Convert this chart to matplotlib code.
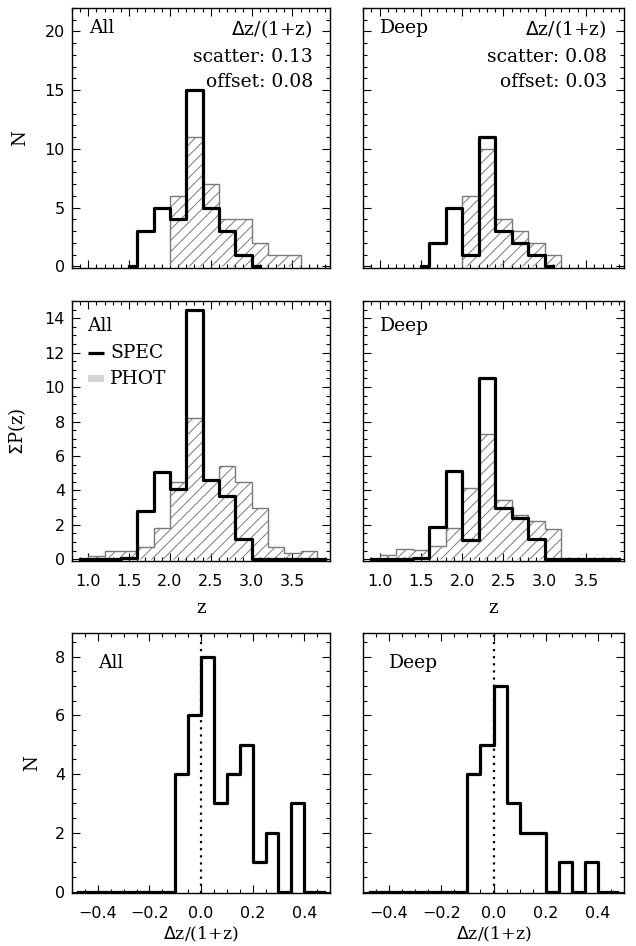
import numpy as np
import matplotlib.pyplot as plt
from matplotlib.ticker import MultipleLocator
from matplotlib.patches import Rectangle

plt.rcParams['hatch.linewidth'] = 0.7
plt.rcParams['font.family'] = 'DejaVu Sans'

# ---- data ----
# top row: N per z bin (bin width 0.2)
top_spec_z = [1.5, 1.7, 1.9, 2.1, 2.3, 2.5, 2.7, 2.9, 3.1]
top_all_spec = [0, 3, 5, 4, 15, 5, 3, 1, 0]
top_deep_spec = [0, 2, 5, 1, 11, 3, 2, 1, 0]
top_all_phot_edges = [2.0, 2.2, 2.4, 2.6, 2.8, 3.0, 3.2, 3.4, 3.6]
top_all_phot = [6, 11, 7, 4, 4, 2, 1, 1]
top_deep_phot_edges = [2.0, 2.2, 2.4, 2.6, 2.8, 3.0, 3.2]
top_deep_phot = [6, 10, 4, 3, 2, 1]
top_all_stats = ('0.13', '0.08')
top_deep_stats = ('0.08', '0.03')

# middle row: summed P(z)
mid_spec_z = [0.9, 1.1, 1.3, 1.5, 1.7, 1.9, 2.1, 2.3, 2.5, 2.7, 2.9, 3.1, 3.3, 3.5, 3.7, 3.9]
mid_all_spec = [0, 0, 0, 0.1, 2.8, 5.05, 4.1, 14.5, 4.6, 3.7, 1.15, 0, 0, 0, 0, 0]
mid_deep_spec = [0, 0, 0, 0.05, 1.9, 5.1, 1.1, 10.5, 2.95, 2.4, 1.2, 0, 0, 0, 0, 0]
mid_all_phot_edges = [1.0, 1.2, 1.4, 1.6, 1.8, 2.0, 2.2, 2.4, 2.6, 2.8, 3.0, 3.2, 3.4, 3.6, 3.8]
mid_all_phot = [0.2, 0.5, 0.5, 0.7, 1.8, 4.5, 8.2, 4.6, 5.4, 4.5, 3.0, 0.7, 0.35, 0.5]
mid_deep_phot_edges = [1.0, 1.2, 1.4, 1.6, 1.8, 2.0, 2.2, 2.4, 2.6, 2.8, 3.0, 3.2]
mid_deep_phot = [0.25, 0.6, 0.55, 0.75, 1.8, 4.15, 7.25, 3.45, 2.55, 2.2, 1.75]

# bottom row: dz/(1+z) histogram (bin width 0.05)
dz_centers = [-0.475, -0.425, -0.375, -0.325, -0.275, -0.225, -0.175, -0.125, -0.075, -0.025,
              0.025, 0.075, 0.125, 0.175, 0.225, 0.275, 0.325, 0.375, 0.425, 0.475]
dz_all = [0, 0, 0, 0, 0, 0, 0, 0, 4, 6, 8, 3, 4, 5, 1, 2, 0, 3, 0, 0]
dz_deep = [0, 0, 0, 0, 0, 0, 0, 0, 4, 5, 7, 3, 2, 2, 0, 1, 0, 1, 0, 0]

W, H = 636, 946
fig = plt.figure(figsize=(W / 100, H / 100), dpi=100)

col_left = [72, 363]
col_width = [258, 261]
row_top = [8, 301, 633]
row_h = 260

serif = 'DejaVu Serif'
txt_size = 13.5
phot_color = '#7a7a7a'


def make_ax(r, c):
    ax = fig.add_axes([col_left[c] / W, 1 - (row_top[r] + row_h) / H,
                       col_width[c] / W, row_h / H])
    ax.tick_params(which='both', direction='in', top=True, right=True,
                   width=0.8, labelsize=11.5, color='k')
    ax.tick_params(which='major', length=6)
    ax.tick_params(which='minor', length=3)
    ax.tick_params(axis='x', pad=9)
    ax.tick_params(axis='y', pad=5)
    for s in ax.spines.values():
        s.set_linewidth(1.0)
    if c == 1:
        ax.tick_params(labelleft=False)
    return ax


def draw_z_panel(ax, spec_z, spec, phot_edges, phot):
    ax.stairs(phot, phot_edges, fill=True, facecolor='none', edgecolor=phot_color,
              hatch='///', linewidth=1.0, zorder=2)
    ax.plot(spec_z, spec, drawstyle='steps-mid', color='k', lw=2.3, zorder=3)
    ax.set_xlim(0.8, 3.96)
    ax.xaxis.set_major_locator(MultipleLocator(0.5))
    ax.xaxis.set_minor_locator(MultipleLocator(0.1))


# ---- top row ----
for c, (spec, pe, ph, name, st) in enumerate([
        (top_all_spec, top_all_phot_edges, top_all_phot, 'All', top_all_stats),
        (top_deep_spec, top_deep_phot_edges, top_deep_phot, 'Deep', top_deep_stats)]):
    ax = make_ax(0, c)
    draw_z_panel(ax, top_spec_z, spec, pe, ph)
    ax.set_ylim(-0.15, 22)
    ax.yaxis.set_major_locator(MultipleLocator(5))
    ax.yaxis.set_minor_locator(MultipleLocator(1))
    ax.tick_params(labelbottom=False)
    ax.text(0.065, 0.922, name, transform=ax.transAxes, family=serif,
            fontsize=txt_size, ha='left', va='center')
    ax.text(0.935, 0.918, r'$\Delta$z/(1+z)', transform=ax.transAxes, family=serif,
            fontsize=txt_size, ha='right', va='center')
    ax.text(0.935, 0.813, 'scatter: ' + st[0], transform=ax.transAxes, family=serif,
            fontsize=txt_size, ha='right', va='center')
    ax.text(0.935, 0.717, 'offset: ' + st[1], transform=ax.transAxes, family=serif,
            fontsize=txt_size, ha='right', va='center')
    if c == 0:
        ax.text(-0.2, 0.5, 'N', transform=ax.transAxes, rotation=90, family=serif,
                fontsize=13, ha='center', va='center')

# ---- middle row ----
for c, (spec, pe, ph, name) in enumerate([
        (mid_all_spec, mid_all_phot_edges, mid_all_phot, 'All'),
        (mid_deep_spec, mid_deep_phot_edges, mid_deep_phot, 'Deep')]):
    ax = make_ax(1, c)
    draw_z_panel(ax, mid_spec_z, spec, pe, ph)
    ax.set_ylim(-0.1, 15)
    ax.yaxis.set_major_locator(MultipleLocator(2))
    ax.yaxis.set_minor_locator(MultipleLocator(0.5))
    ax.text(0.5, -0.18, 'z', transform=ax.transAxes, family=serif,
            fontsize=13, ha='center', va='center')
    ax.text(0.06 if c == 0 else 0.065, 0.905, name, transform=ax.transAxes,
            family=serif, fontsize=txt_size, ha='left', va='center')
    if c == 0:
        ax.plot([0.062, 0.124], [0.801, 0.801], transform=ax.transAxes,
                color='k', lw=2.3, solid_capstyle='butt')
        ax.text(0.147, 0.801, 'SPEC', transform=ax.transAxes, family=serif,
                fontsize=txt_size, ha='left', va='center')
        ax.add_patch(Rectangle((0.062, 0.688), 0.062, 0.026, transform=ax.transAxes,
                               facecolor='#d6d6d6', edgecolor='none'))
        ax.text(0.147, 0.70, 'PHOT', transform=ax.transAxes, family=serif,
                fontsize=txt_size, ha='left', va='center')
        ax.text(-0.213, 0.5, r'$\Sigma$P(z)', transform=ax.transAxes, rotation=90,
                family=serif, fontsize=13, ha='center', va='center')

# ---- bottom row ----
for c, (vals, name) in enumerate([(dz_all, 'All'), (dz_deep, 'Deep')]):
    ax = make_ax(2, c)
    ax.axvline(0, color='k', lw=1.6, linestyle=(0, (1, 2.2)), zorder=2)
    ax.plot(dz_centers, vals, drawstyle='steps-mid', color='k', lw=2.3, zorder=3)
    ax.set_xlim(-0.5, 0.5)
    ax.set_ylim(-0.05, 8.8)
    ax.xaxis.set_major_locator(MultipleLocator(0.2))
    ax.xaxis.set_minor_locator(MultipleLocator(0.05))
    ax.yaxis.set_major_locator(MultipleLocator(2))
    ax.yaxis.set_minor_locator(MultipleLocator(0.5))
    ax.xaxis.set_major_formatter(plt.FuncFormatter(
        lambda v, p: ('\u2212' if v < -1e-9 else '') + '%.1f' % abs(v)))
    ax.text(0.5, -0.196, r'$\Delta$z/(1+z)', transform=ax.transAxes, family=serif,
            fontsize=12.5, ha='center', va='bottom')
    ax.text(0.10, 0.883, name, transform=ax.transAxes, family=serif,
            fontsize=txt_size, ha='left', va='center')
    if c == 0:
        ax.text(-0.153, 0.5, 'N', transform=ax.transAxes, rotation=90, family=serif,
                fontsize=13, ha='center', va='center')

fig.savefig('out.png', dpi=100)
